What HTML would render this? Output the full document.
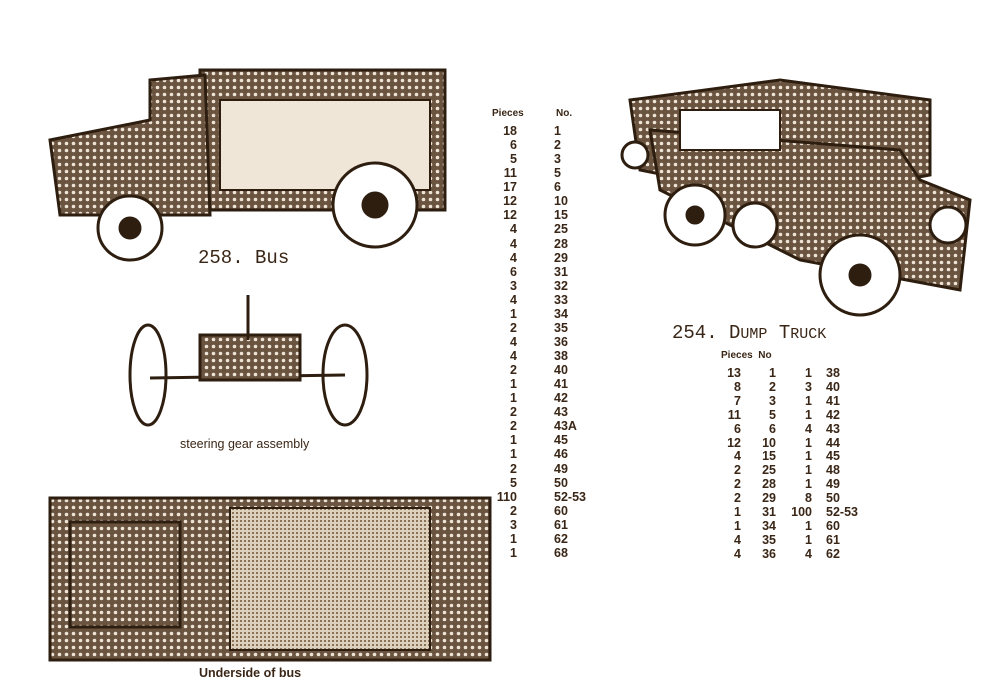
<!DOCTYPE html>
<html><head><meta charset="utf-8"><style>
body{margin:0;width:1000px;height:700px;background:#fff;position:relative;overflow:hidden;font-family:"Liberation Sans",sans-serif;color:#3a2616}
.t{position:absolute;font-weight:bold;font-size:12.5px;line-height:14.07px}
.r{text-align:right}
.lbl{position:absolute;font-family:"Liberation Mono",monospace;color:#3a2616}
</style></head><body>
<svg width="1000" height="700" style="position:absolute;left:0;top:0">
<defs>
<pattern id="p" width="7" height="7" patternUnits="userSpaceOnUse"><rect width="7" height="7" fill="#6a5440"/><circle cx="3.5" cy="3.5" r="1.8" fill="#eee4d6"/></pattern>
<pattern id="q" width="4" height="4" patternUnits="userSpaceOnUse"><rect width="4" height="4" fill="#ddd0bd"/><rect width="2" height="2" fill="#8a7258"/></pattern>
</defs>
<g stroke="#2e1e10" stroke-width="3">
<!-- bus -->
<rect x="200" y="70" width="245" height="140" fill="url(#p)"/>
<rect x="220" y="100" width="210" height="90" fill="#efe6d8" stroke-width="2"/>
<path d="M150 80 L205 75 L210 215 L60 215 L50 140 L150 120 Z" fill="url(#p)"/>
<circle cx="130" cy="228" r="32" fill="#fff"/><circle cx="130" cy="228" r="10" fill="#2e1e10"/>
<circle cx="375" cy="205" r="42" fill="#fff"/><circle cx="375" cy="205" r="12" fill="#2e1e10"/>
<!-- steering -->
<ellipse cx="148" cy="375" rx="18" ry="50" fill="#fff"/>
<ellipse cx="345" cy="375" rx="22" ry="50" fill="#fff"/>
<line x1="150" y1="378" x2="345" y2="375"/>
<rect x="200" y="335" width="100" height="45" fill="url(#p)"/>
<line x1="248" y1="295" x2="248" y2="340"/>
<!-- underside -->
<rect x="50" y="498" width="440" height="162" fill="url(#p)"/>
<rect x="230" y="508" width="200" height="142" fill="url(#q)" stroke-width="2"/>
<rect x="70" y="522" width="110" height="105" fill="url(#p)"/>
<!-- dump truck -->
<path d="M630 100 L780 80 L930 100 L930 175 L790 200 L640 170 Z" fill="url(#p)"/>
<path d="M650 130 L900 150 L920 180 L970 200 L960 290 L800 260 L660 190 Z" fill="url(#p)"/>
<rect x="680" y="110" width="100" height="40" fill="#fff" stroke-width="2"/>
<circle cx="695" cy="215" r="30" fill="#fff"/><circle cx="695" cy="215" r="8" fill="#2e1e10"/>
<circle cx="755" cy="225" r="22" fill="#fff"/>
<circle cx="860" cy="275" r="40" fill="#fff"/><circle cx="860" cy="275" r="10" fill="#2e1e10"/>
<circle cx="948" cy="225" r="18" fill="#fff"/>
<circle cx="635" cy="155" r="13" fill="#fff"/>
</g>
</svg>
<div class="lbl" style="left:198px;top:247px;font-size:19px">258. Bus</div>
<div class="t" style="left:180px;top:437px;font-weight:normal;font-size:12.5px">steering gear assembly</div>
<div class="t" style="left:199px;top:666px;font-size:12.5px">Underside of bus</div>
<div class="lbl" style="left:672px;top:322px;font-size:19px">254. D<span style="font-size:15px">UMP</span> T<span style="font-size:15px">RUCK</span></div>

<div class="t" style="left:492px;top:107px;font-size:10px">Pieces</div>
<div class="t" style="left:556px;top:107px;font-size:10px">No.</div>
<div class="t r" style="left:480px;top:124px;width:37px">18<br>6<br>5<br>11<br>17<br>12<br>12<br>4<br>4<br>4<br>6<br>3<br>4<br>1<br>2<br>4<br>4<br>2<br>1<br>1<br>2<br>2<br>1<br>1<br>2<br>5<br>110<br>2<br>3<br>1<br>1</div>
<div class="t" style="left:554px;top:124px">1<br>2<br>3<br>5<br>6<br>10<br>15<br>25<br>28<br>29<br>31<br>32<br>33<br>34<br>35<br>36<br>38<br>40<br>41<br>42<br>43<br>43A<br>45<br>46<br>49<br>50<br>52-53<br>60<br>61<br>62<br>68</div>

<div class="t" style="left:721px;top:349px;font-size:10px">Pieces&nbsp;&nbsp;No</div>
<div class="t r" style="left:700px;top:367px;width:41px;line-height:13.9px">13<br>8<br>7<br>11<br>6<br>12<br>4<br>2<br>2<br>2<br>1<br>1<br>4<br>4</div>
<div class="t r" style="left:740px;top:367px;width:36px;line-height:13.9px">1<br>2<br>3<br>5<br>6<br>10<br>15<br>25<br>28<br>29<br>31<br>34<br>35<br>36</div>
<div class="t r" style="left:780px;top:367px;width:32px;line-height:13.9px">1<br>3<br>1<br>1<br>4<br>1<br>1<br>1<br>1<br>8<br>100<br>1<br>1<br>4</div>
<div class="t" style="left:826px;top:367px;line-height:13.9px">38<br>40<br>41<br>42<br>43<br>44<br>45<br>48<br>49<br>50<br>52-53<br>60<br>61<br>62</div>
</body></html>
